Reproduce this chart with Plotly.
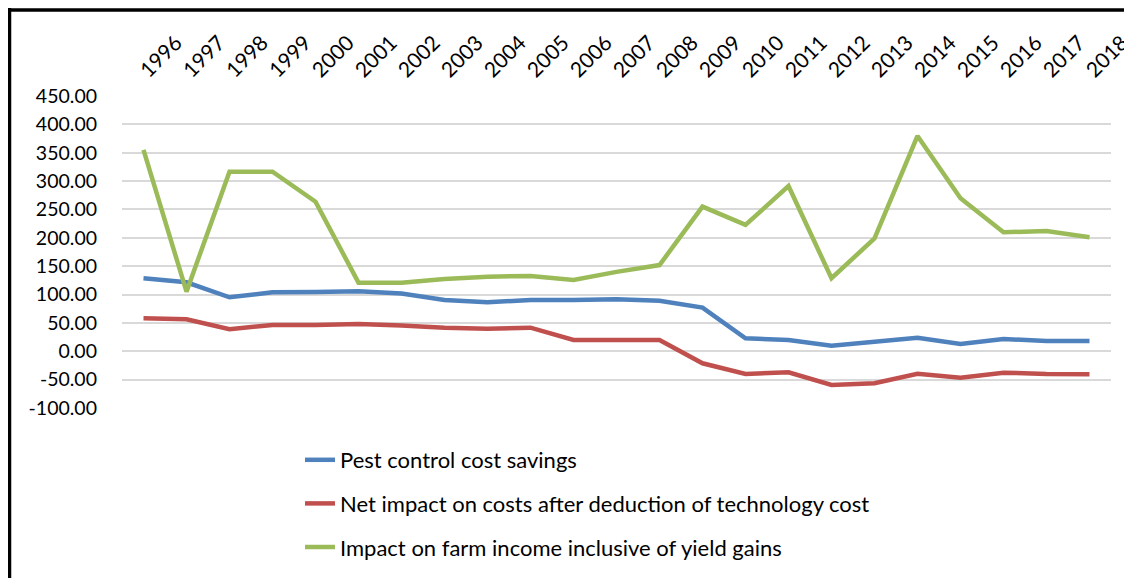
import plotly.graph_objects as go

years = [str(y) for y in range(1996, 2019)]

pest_control_savings = [128.7, 121.6, 95.2, 104.0, 104.5, 105.8, 102.0, 90.4, 86.4, 90.4,
                        90.4, 91.7, 89.2, 76.9, 22.9, 19.9, 9.9, 17.0, 24.0, 12.9,
                        21.7, 18.2, 18.2]
net_impact_costs = [58.2, 56.4, 38.8, 46.4, 46.4, 48.1, 45.5, 41.6, 39.9, 41.6,
                    19.9, 19.9, 19.9, -21.2, -40.0, -37.0, -59.4, -56.5, -39.5, -46.5,
                    -37.7, -40.0, -40.6]
farm_income_yield = [355.0, 105.0, 316.6, 316.6, 263.7, 121.0, 121.0, 127.5, 131.5, 132.7,
                     125.7, 140.0, 152.0, 255.0, 222.7, 291.4, 128.7, 199.0, 379.6, 269.7,
                     209.8, 212.0, 201.0]

series_names = ["Pest control cost savings",
                "Net impact on costs after deduction of technology cost",
                "Impact on farm income inclusive of yield gains"]
series_colors = ["#4F81BD", "#C0504D", "#9BBB59"]
series_values = [pest_control_savings, net_impact_costs, farm_income_yield]

y_ticks = list(range(-100, 451, 50))
y_tick_labels = [f"{v:.2f}" for v in y_ticks]

FONT = "Lato, Carlito, sans-serif"

fig = go.Figure()
for i, (name, color, vals) in enumerate(zip(series_names, series_colors, series_values)):
    fig.add_trace(go.Scatter(
        x=years, y=vals, name=name, mode="lines",
        line=dict(color=color, width=4.5, shape="linear"),
        legendgroup=f"g{i}",
    ))

# The page body has an 8px default margin; work in page pixels and offset.
OFF = 8
W, H = 1132 - OFF, 578 - OFF
L, R, T, B = 122 - OFF, 1111 - OFF, 96 - OFF, 408 - OFF


def px_x(px):
    return (px - OFF - L) / (R - L)


def px_y(py):
    return (B - (py - OFF)) / (B - T)


shapes = [
    dict(type="line", xref="paper", yref="paper",
         x0=px_x(9.5), x1=px_x(9.5), y0=px_y(8), y1=px_y(600),
         line=dict(color="black", width=3.5)),
    dict(type="line", xref="paper", yref="paper",
         x0=px_x(8), x1=px_x(1140), y0=px_y(10), y1=px_y(10),
         line=dict(color="black", width=3.5)),
]

fig.update_layout(
    width=W, height=H,
    margin=dict(l=L, r=W - R, t=T, b=H - B, pad=0, autoexpand=False),
    paper_bgcolor="white", plot_bgcolor="white",
    font=dict(family=FONT, color="black", size=22),
    showlegend=True,
    legend=dict(
        x=px_x(300), y=px_y(439), xanchor="left", yanchor="top",
        orientation="v", tracegroupgap=12,
        font=dict(family=FONT, size=22, color="black"),
        bgcolor="rgba(0,0,0,0)",
    ),
    shapes=shapes,
)

fig.update_xaxes(
    type="category", categoryorder="array", categoryarray=years,
    range=[-0.5, len(years) - 0.5], automargin=False,
    side="top", tickangle=-45, showgrid=False, zeroline=False,
    showline=False, ticks="",
    tickfont=dict(family=FONT, size=21, color="black"),
    ticklabelstandoff=9, ticklabelshift=-2,
)
fig.update_yaxes(
    range=[-100, 450], tickmode="array", tickvals=y_ticks, ticktext=y_tick_labels,
    showgrid=True, gridcolor="#D9D9D9", gridwidth=1.5, automargin=False,
    zeroline=False, showline=False, ticks="",
    tickfont=dict(family=FONT, size=19.5, color="black"),
    ticklabelstandoff=24,
)

fig.write_html("out.html")
